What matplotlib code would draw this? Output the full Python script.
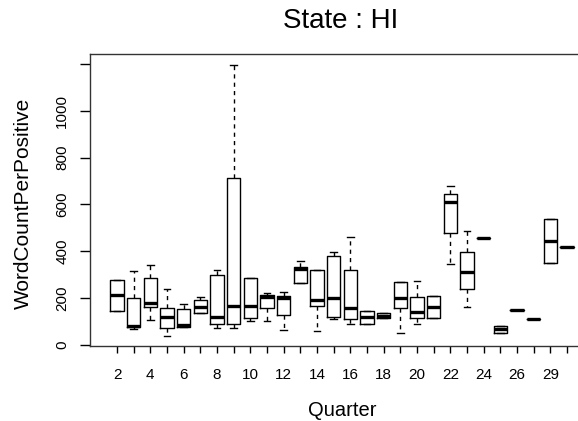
import matplotlib
matplotlib.use('Agg')
import matplotlib.pyplot as plt

plt.rcParams['font.family'] = ['Liberation Sans', 'DejaVu Sans']

# box stats (R style boxplot, one box per quarter)
quarters = ['2', '3', '4', '5', '6', '7', '8', '9', '10', '11', '12', '13', '14',
            '15', '16', '17', '18', '19', '20', '21', '22', '23', '24', '25', '26',
            '27', '29', '30']
whislo = [143, 65, 105, 38, 74, 134, 69, 72, 102, 102, 62, 262, 58, 108, 88, 86,
          112, 51, 88, 115, 345, 162, 455, 48, 148, 108, 348, 416]
q1 = [143, 74, 162, 69, 74, 134, 86, 86, 115, 155, 126, 262, 165, 119, 108, 86,
      112, 155, 112, 115, 476, 236, 455, 48, 148, 108, 348, 416]
med = [212, 81, 176, 119, 83, 162, 116, 166, 166, 205, 198, 323, 191, 198, 155, 116,
       124, 198, 141, 162, 609, 312, 455, 65, 148, 108, 443, 416]
q3 = [276, 198, 286, 155, 151, 191, 298, 714, 283, 212, 208, 331, 319, 379, 319, 145,
      134, 266, 205, 209, 645, 397, 455, 80, 148, 108, 536, 416]
whishi = [276, 316, 340, 238, 173, 202, 319, 1197, 283, 219, 224, 359, 319, 397, 459, 145,
          134, 266, 272, 209, 679, 486, 455, 80, 148, 108, 536, 416]

yticks = [0, 200, 400, 600, 800, 1000, 1200]

stats = []
for i in range(len(quarters)):
    stats.append({'whislo': whislo[i], 'q1': q1[i], 'med': med[i],
                  'q3': q3[i], 'whishi': whishi[i], 'fliers': []})

W, H = 578, 421
fig = plt.figure(figsize=(W / 100, H / 100), dpi=100)
ax = fig.add_axes([90 / W, (H - 346) / H, 504 / W, 292 / H])

pos = list(range(1, len(quarters) + 1))
ax.bxp(stats, positions=pos, widths=0.8, showfliers=False,
       boxprops=dict(color='black', lw=1.0),
       medianprops=dict(color='black', lw=2.4, solid_capstyle='butt'),
       whiskerprops=dict(color='black', lw=1.0, linestyle=(0, (3, 3))),
       capprops=dict(color='black', lw=1.0), capwidths=0.4)

ax.set_xlim(-0.62, len(quarters) + 1.62)
ax.set_ylim(-6, 1243)

ax.set_xticks(pos)
ax.set_xticklabels([q if i % 2 == 0 else '' for i, q in enumerate(quarters)], fontsize=11)
ax.set_yticks(yticks)
ax.set_yticklabels([str(v) if v < 1200 else '' for v in yticks], fontsize=11,
                   rotation=90, va='center')
ax.tick_params(axis='x', length=5, width=1, pad=11)
ax.tick_params(axis='y', length=7, width=1, pad=8)
for s in ax.spines.values():
    s.set_linewidth(1.0)
    s.set_color('#333333')

fig.text(341 / W, 1 - 21 / H, 'State : HI', ha='center', va='center', fontsize=20)
fig.text(342 / W, 1 - 411 / H, 'Quarter', ha='center', va='center', fontsize=14.5)
fig.text(23 / W, 1 - 203 / H, 'WordCountPerPositive', ha='center', va='center',
         fontsize=15, rotation=90)

fig.savefig('out.png', dpi=100)
plt.close()
